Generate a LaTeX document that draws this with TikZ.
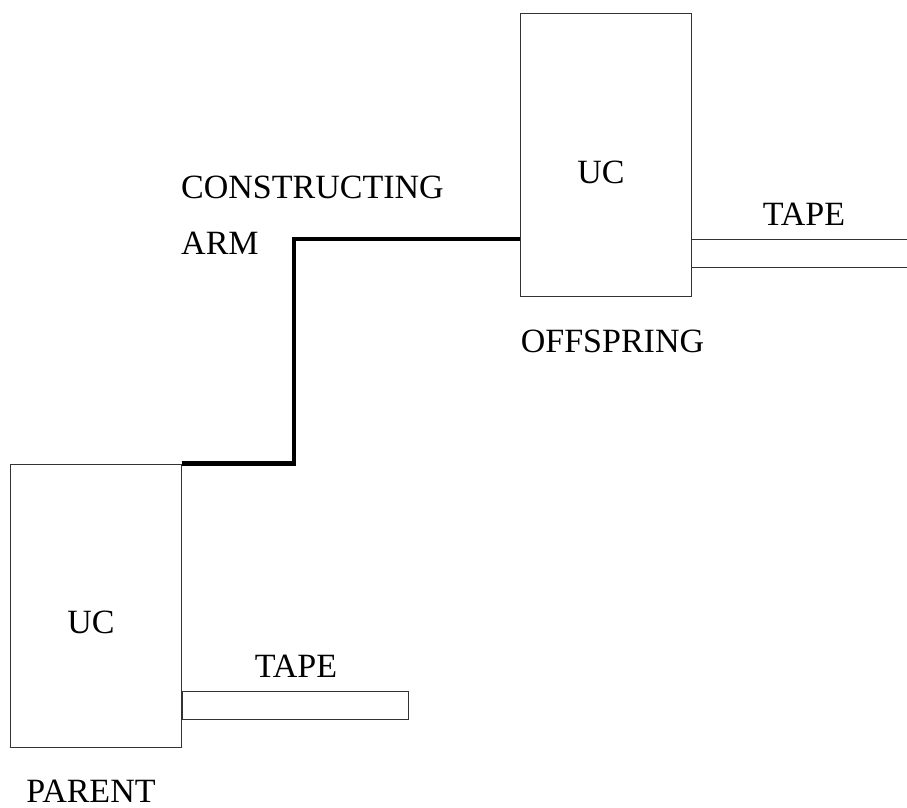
\documentclass[tikz,border=0pt]{standalone}
\usepackage{fontspec}
\setmainfont{Liberation Serif}
\usetikzlibrary{positioning}
\tikzset{
  ucbox/.style={draw=black!80, line width=1pt, minimum width=171pt, minimum height=283pt, inner sep=0pt},
  tapebox/.style={draw=black!80, line width=1pt, minimum width=226pt, minimum height=28pt, inner sep=0pt},
  lbl/.style={inner sep=0pt, font=\fontsize{34}{40}\selectfont},
  armline/.style={line width=4.5pt, black}
}
\begin{document}
\begin{tikzpicture}[x=1pt, y=-1pt]
      \useasboundingbox (0,0) rectangle (907,807);
      % boxes
      \node[ucbox] (parent) at (95.5,605.5) {};
      \node[ucbox] (offspring) at (605.5,154.5) {};
      \node[tapebox, anchor=north west] (ptape) at (parent.east |- 0,691) {};
      % offspring tape, open on the right
      \coordinate (otapetop) at (907,239);
      \coordinate (otapebot) at (907,267);
      \draw[draw=black!80, line width=1pt] (offspring.east |- otapetop) -- (otapetop);
      \draw[draw=black!80, line width=1pt] (offspring.east |- otapebot) -- (otapebot);
      % constructing arm
      \coordinate (armbend) at (294,239);
      \draw[armline] (parent.north east) -| (armbend) -- (armbend -| offspring.west);
      % labels
      \node[lbl] (pucl) at (91,622) {UC};
      \node[lbl] (oucl) at (601,172) {UC};
      \node[lbl] (ptapel) at (296,666) {TAPE};
      \node[lbl] (otapel) at (804,214) {TAPE};
      \node[lbl] (parentl) at (91,791) {PARENT};
      \node[lbl] (offspringl) at (612.5,341) {OFFSPRING};
      \node[lbl, anchor=west] (constl) at (181,187) {CONSTRUCTING};
      \node[lbl, anchor=west] (arml) at (181,243) {ARM};
\end{tikzpicture}
\end{document}
